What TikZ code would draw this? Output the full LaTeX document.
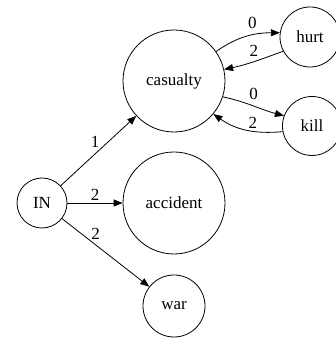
\documentclass[tikz,border=0pt]{standalone}
\usepackage{fontspec}
\setmainfont{Liberation Serif}
\usetikzlibrary{arrows.meta}
\begin{document}
\begin{tikzpicture}[x=1pt,y=1pt,
  state/.style={circle,draw,line width=0.8pt,inner sep=0pt,font=\fontsize{17}{19}\selectfont},
  edge/.style={draw,line width=0.8pt,-{Triangle[length=9pt,width=7pt]}},
  lbl/.style={font=\fontsize{17}{19}\selectfont,inner sep=1pt}]
\useasboundingbox (0,0) rectangle (336,339);
\node[state,minimum size=50pt] (IN) at (42,136) {IN};
\node[state,minimum size=102pt] (casualty) at (174,258) {casualty};
\node[state,minimum size=102pt] (accident) at (174,136) {accident};
\node[state,minimum size=62pt] (war) at (174,33) {war};
\node[state,minimum size=60pt] (hurt) at (310,302) {hurt};
\node[state,minimum size=59pt] (kill) at (312,213) {kill};
\draw[edge] (IN) -- node[lbl,pos=0.53,anchor=south east]{1} (casualty);
\draw[edge] (IN) -- node[lbl,pos=0.5,anchor=south,inner sep=2pt]{2} (accident);
\draw[edge] (IN) -- node[lbl,pos=0.32,anchor=south west]{2} (war);
\draw[edge] (casualty.35) to[out=35,in=180] node[lbl,pos=0.6,above=5pt]{0} (hurt.172);
\draw[edge] (hurt.208) to[out=200,in=12] node[lbl,pos=0.5,above=4pt]{2} (casualty.13);
\draw[edge] (casualty.-18) to[out=-12,in=165] node[lbl,pos=0.5,above=5pt]{0} (kill.160);
\draw[edge] (kill.191) to[out=185,in=-35] node[lbl,pos=0.4,above=1pt]{2} (casualty.-40);
\end{tikzpicture}
\end{document}
